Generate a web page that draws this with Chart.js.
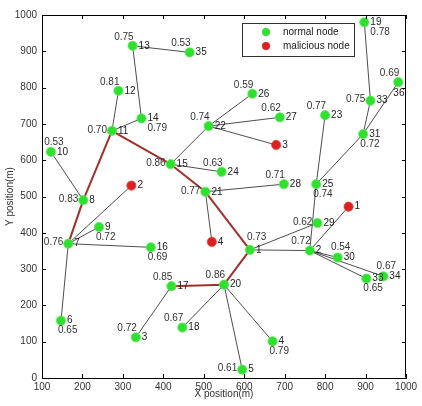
<!DOCTYPE html>
<html><head><meta charset="utf-8">
<script src="https://cdn.jsdelivr.net/npm/chart.js@4"></script>
<style>html,body{margin:0;padding:0;background:#fff}#wrap{width:422px;height:406px}</style>
</head><body><div id="wrap"><canvas id="c" width="422" height="406"></canvas></div>
<script>
// ---------------- DATA ----------------
const nodeKeys  = ['a13','a35','a12','a14','a11','a10','a15','m2','a8','a21','a19','a26','a27','a22','m3','a23','a33','a36','a31','a24','a28','a25','a9','a7','a16','a17','a6','a3','a18','m1','a29','a1','a2','a30','a32','a34','a20','a4','m4','a5'];
const nodeIds   = ['13','35','12','14','11','10','15','2','8','21','19','26','27','22','3','23','33','36','31','24','28','25','9','7','16','17','6','3','18','1','29','1','2','30','33','34','20','4','4','5'];
const nodeX     = [324,465,289,346,273,122,418,321,202,504,897,620,688,512,679,800,912,981,894,544,698,778,241,165,369,420,147,332,447,858,781,614,762,831,902,944,550,670,520,595];
const nodeY     = [915,897,791,715,681,623,589,530,490,513,980,783,718,694,642,724,764,815,672,568,534,534,416,370,360,253,158,112,139,472,427,353,351,332,274,280,257,101,375,23];
const nodeTrust = [0.75,0.53,0.81,0.79,0.70,0.53,0.86,null,0.83,0.77,0.78,0.59,0.62,0.74,null,0.77,0.75,0.69,0.72,0.63,0.71,0.74,0.72,0.76,0.69,0.85,0.65,0.72,0.67,null,0.62,0.73,0.72,0.54,0.65,0.67,0.86,0.79,null,0.61];
// null trust = malicious node
const edgeFrom = ['a13','a13','a12','a14','a10','a7','a7','a7','a7','a15','a15','a22','a22','a22','a21','a21','a1','a1','a2','a25','a25','a31','a33','a31','a2','a2','a2','a2','a20','a20','a20','a17'];
const edgeTo   = ['a35','a14','a11','a11','a8','a9','m2','a16','a6','a22','a24','a26','a27','m3','a28','m4','a29','a2','a25','a23','a31','a33','a19','a36','m1','a30','a32','a34','a18','a4','a5','a3'];
const routePath = ['a7','a8','a11','a15','a21','a1','a20','a17'];
const xTicks = [100,200,300,400,500,600,700,800,900,1000];
const yTicks = [0,100,200,300,400,500,600,700,800,900,1000];
const legendLabels = ['normal node','malicious node'];

// ---------------- STYLE ----------------
const FONT = '"Liberation Sans",Arial,sans-serif';
const GREEN = '#2fe02f', RED = '#dd2020', EDGE = '#3a3a3a', ROUTE = '#a32f2a';
const valPos = {a13:'UL',a35:'UL',a12:'UL',a14:'BR',a11:'L',a10:'U',a15:'L',a8:'L',a21:'L',a19:'BR',a26:'UL',a27:'UL',a22:'UL',a23:'UL',a33:'L',a36:'UL',a31:'B',a24:'UL',a28:'UL',a25:'B',a9:'B',a7:'L',a16:'B',a17:'UL',a6:'B',a3:'UL',a18:'UL',a29:'L',a1:'UR',a2:'UL',a30:'U',a32:'B',a34:'U',a20:'UL',a4:'B',a5:'L'};
const idPos = {a36:'B'};

const idx = k => nodeKeys.indexOf(k);
const pt = k => ({x: nodeX[idx(k)], y: nodeY[idx(k)]});

const datasets = [];
const normalPts = [], malPts = [];
nodeKeys.forEach((k,i)=>{ (nodeTrust[i]===null ? malPts : normalPts).push({x:nodeX[i], y:nodeY[i]}); });
datasets.push({label:legendLabels[0], data:normalPts, showLine:false, pointRadius:4.6, pointHoverRadius:4.6, pointBackgroundColor:GREEN, pointBorderColor:'#55ee55', pointBorderWidth:0.8, order:0});
datasets.push({label:legendLabels[1], data:malPts, showLine:false, pointRadius:4.6, pointHoverRadius:4.6, pointBackgroundColor:RED, pointBorderColor:'#e84040', pointBorderWidth:0.8, order:0});
for (let i=0;i<routePath.length-1;i++){
  datasets.push({data:[pt(routePath[i]),pt(routePath[i+1])], showLine:true, borderColor:ROUTE, borderWidth:2, pointRadius:0, order:1});
}
edgeFrom.forEach((f,i)=>{
  datasets.push({data:[pt(f),pt(edgeTo[i])], showLine:true, borderColor:EDGE, borderWidth:0.9, pointRadius:0, order:2});
});

const decor = {
  id:'decor',
  afterDatasetsDraw(chart){
    const {ctx, chartArea:a, scales:{x,y}} = chart;
    ctx.save();
    ctx.strokeStyle='#000'; ctx.lineWidth=1;
    ctx.beginPath();
    ctx.moveTo(a.left+0.5,a.top+0.5); ctx.lineTo(a.right-0.5,a.top+0.5); ctx.lineTo(a.right-0.5,a.bottom-0.5);
    xTicks.forEach(v=>{const p=Math.round(x.getPixelForValue(v))+0.5; ctx.moveTo(p,a.bottom); ctx.lineTo(p,a.bottom-4); ctx.moveTo(p,a.top); ctx.lineTo(p,a.top+4);});
    yTicks.forEach(v=>{const p=Math.round(y.getPixelForValue(v))+0.5; ctx.moveTo(a.left,p); ctx.lineTo(a.left+4,p); ctx.moveTo(a.right,p); ctx.lineTo(a.right-4,p);});
    ctx.stroke();
    ctx.font='10px '+FONT; ctx.textBaseline='middle';
    nodeKeys.forEach((k,i)=>{
      const px=x.getPixelForValue(nodeX[i]), py=y.getPixelForValue(nodeY[i]);
      ctx.fillStyle='#222';
      if (idPos[k]==='B'){ ctx.textAlign='left'; ctx.fillText(nodeIds[i], px-5, py+11); }
      else { ctx.textAlign='left'; ctx.fillText(nodeIds[i], px+6, py); }
      const t=nodeTrust[i]; if (t===null) return;
      const s=t.toFixed(2); ctx.fillStyle='#333';
      switch(valPos[k]){
        case 'UL': ctx.textAlign='right'; ctx.fillText(s,px+1,py-9); break;
        case 'L': ctx.textAlign='right'; ctx.fillText(s,px-5,py-1); break;
        case 'U': ctx.textAlign='center'; ctx.fillText(s,px+3,py-10); break;
        case 'B': ctx.textAlign='left'; ctx.fillText(s,px-3,py+10); break;
        case 'BR': ctx.textAlign='left'; ctx.fillText(s,px+6,py+10); break;
        case 'UR': ctx.textAlign='left'; ctx.fillText(s,px-3,py-13); break;
      }
    });
    ctx.fillStyle='#fff'; ctx.fillRect(242,23,112,33);
    ctx.strokeStyle='#333'; ctx.strokeRect(242.5,23.5,112,33);
    [[GREEN,32],[RED,46]].forEach(([c,yy],j)=>{
      ctx.fillStyle=c; ctx.beginPath(); ctx.arc(266,yy,4,0,Math.PI*2); ctx.fill();
      ctx.fillStyle='#222'; ctx.textAlign='left'; ctx.fillText(legendLabels[j],283,yy);
    });
    ctx.restore();
  }
};

new Chart(document.getElementById('c'), {
  type:'scatter',
  data:{datasets},
  options:{
    responsive:false, animation:false, devicePixelRatio:1,
    layout:{padding:{top:15,right:16,left:0,bottom:0}},
    plugins:{legend:{display:false}, tooltip:{enabled:false}},
    scales:{
      x:{type:'linear', min:100, max:1000,
         afterBuildTicks:s=>{s.ticks=xTicks.map(v=>({value:v}));},
         afterFit:s=>{s.height=28;},
         grid:{display:false, drawTicks:false}, border:{display:true,color:'#000',width:1},
         ticks:{padding:3, color:'#333', font:{family:FONT,size:10}, maxRotation:0, autoSkip:false, callback:v=>String(v)},
         title:{display:true, text:'X position(m)', color:'#333', font:{family:FONT,size:10}, padding:{top:0,bottom:6}}},
      y:{type:'linear', min:0, max:1000,
         afterBuildTicks:s=>{s.ticks=yTicks.map(v=>({value:v}));},
         afterFit:s=>{s.width=42;},
         grid:{display:false, drawTicks:false}, border:{display:true,color:'#000',width:1},
         ticks:{padding:5, color:'#333', font:{family:FONT,size:10}, autoSkip:false, callback:v=>String(v)},
         title:{display:true, text:'Y position(m)', color:'#333', font:{family:FONT,size:10}, padding:{top:4,bottom:0}}}
    }
  },
  plugins:[decor]
});
</script></body></html>
